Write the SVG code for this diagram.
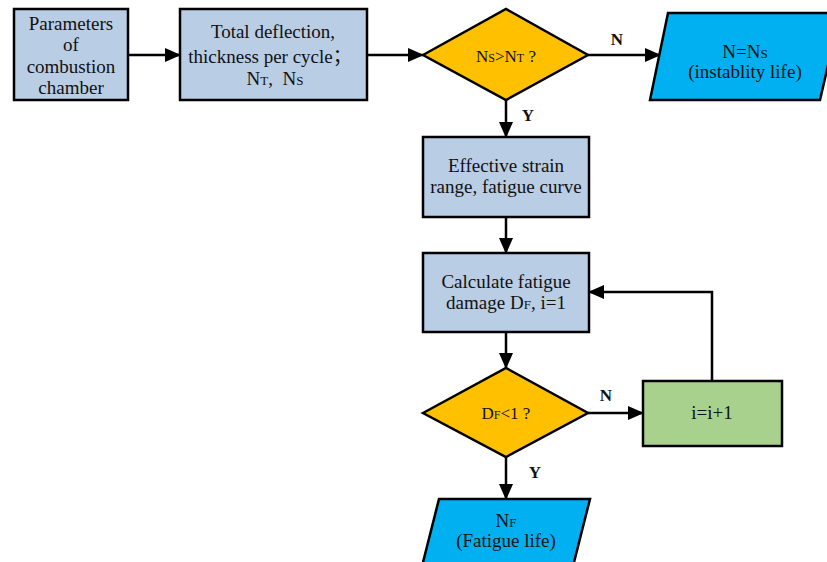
<svg xmlns="http://www.w3.org/2000/svg" width="827" height="562" viewBox="0 0 827 562">
<style>
.box{fill:#B9CDE5;stroke:#000;stroke-width:2.5}
.dia{fill:#FFC000;stroke:#000;stroke-width:2.5}
.par{fill:#00B0F0;stroke:#000;stroke-width:2.5}
.grn{fill:#A9D18E;stroke:#000;stroke-width:2.5}
text{font-family:'Liberation Serif','DejaVu Serif',serif}
.t{font-size:19px;fill:#111;text-anchor:middle}
.s{font-size:17px}
.lbl{font-size:17px;font-weight:bold;fill:#111;text-anchor:middle}
.c{fill:none;stroke:#000;stroke-width:2.5}
</style>
<defs>
<marker id="ah" markerUnits="userSpaceOnUse" markerWidth="16" markerHeight="14" refX="15" refY="7" orient="auto">
<path d="M0,0 L16,7 L0,14 Z" fill="#000"/>
</marker>
</defs>
<rect width="827" height="562" fill="#fff"/>
<g id="connectors">
<line class="c" x1="128" y1="55" x2="180" y2="55" marker-end="url(#ah)"/>
<line class="c" x1="367" y1="55" x2="423" y2="55" marker-end="url(#ah)"/>
<line class="c" x1="588" y1="55" x2="660" y2="55" marker-end="url(#ah)"/>
<line class="c" x1="506" y1="100" x2="506" y2="137" marker-end="url(#ah)"/>
<line class="c" x1="506" y1="217" x2="506" y2="253" marker-end="url(#ah)"/>
<line class="c" x1="506" y1="332" x2="506" y2="368" marker-end="url(#ah)"/>
<line class="c" x1="588" y1="413" x2="643" y2="413" marker-end="url(#ah)"/>
<polyline class="c" points="712,381 712,292 589,292" marker-end="url(#ah)"/>
<line class="c" x1="506" y1="457" x2="506" y2="499" marker-end="url(#ah)"/>
<text class="lbl" x="617" y="45">N</text>
<text class="lbl" x="528" y="121">Y</text>
<text class="lbl" x="606" y="401">N</text>
<text class="lbl" x="535" y="478">Y</text>
</g>
<g id="params">
<rect class="box" x="14" y="9" width="114" height="91"/>
<text class="t" x="71" y="30">Parameters</text>
<text class="t" x="71" y="51">of</text>
<text class="t" x="71" y="73">combustion</text>
<text class="t" x="71" y="94">chamber</text>
</g>
<g id="deflection">
<rect class="box" x="180" y="9" width="187" height="91"/>
<text class="t" x="273" y="38">Total deflection,</text>
<text class="t" x="270" y="63">thickness per cycle<tspan font-family="'Noto Sans CJK SC',sans-serif">；</tspan></text>
<text class="t" x="275" y="85">N<tspan font-size="13">T</tspan>,&#160; N<tspan font-size="13">S</tspan></text>
</g>
<g id="decision1">
<polygon class="dia" points="423,55 506,9 588,55 506,100"/>
<text class="t s" x="506" y="62">N<tspan font-size="12">S</tspan>&gt;N<tspan font-size="12">T</tspan> ?</text>
</g>
<g id="instability">
<polygon class="par" points="668,13 840,13 820,100 650,100"/>
<text class="t" x="745" y="58">N=N<tspan font-size="13">S</tspan></text>
<text class="t" x="745" y="78">(instablity life)</text>
</g>
<g id="strain">
<rect class="box" x="423" y="137" width="166" height="80"/>
<text class="t" x="506" y="172">Effective strain</text>
<text class="t" x="506" y="193">range, fatigue curve</text>
</g>
<g id="damage">
<rect class="box" x="423" y="253" width="166" height="79"/>
<text class="t" x="506" y="288">Calculate fatigue</text>
<text class="t" x="506" y="309">damage D<tspan font-size="13">F</tspan>, i=1</text>
</g>
<g id="decision2">
<polygon class="dia" points="423,413 506,368 588,413 506,457"/>
<text class="t s" x="506" y="419">D<tspan font-size="12">F</tspan>&lt;1 ?</text>
</g>
<g id="increment">
<rect class="grn" x="643" y="381" width="139" height="65"/>
<text class="t" x="712" y="419">i=i+1</text>
</g>
<g id="fatiguelife">
<polygon class="par" points="439,499 590,499 568,586 417,586"/>
<text class="t" x="506" y="527">N<tspan font-size="13">F</tspan></text>
<text class="t" x="506" y="547">(Fatigue life)</text>
</g>
</svg>
